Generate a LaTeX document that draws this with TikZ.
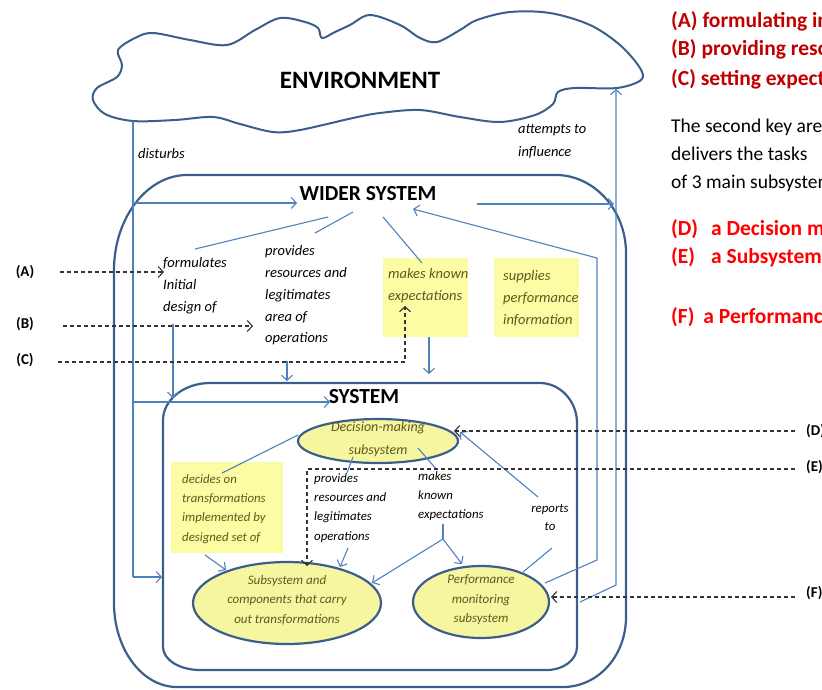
\documentclass[tikz,border=0pt]{standalone}
\usepackage{fontspec}
\setmainfont{Carlito}
\usetikzlibrary{arrows.meta,shapes.geometric}

\definecolor{linkblue}{RGB}{79,129,189}
\definecolor{frameblue}{RGB}{59,94,140}
\definecolor{notefill}{RGB}{252,252,164}
\definecolor{blobfill}{RGB}{246,246,160}
\definecolor{notetext}{RGB}{96,88,30}
\definecolor{keyred}{RGB}{192,0,0}
\definecolor{hotred}{RGB}{255,0,0}

\tikzset{
  link/.style={draw=linkblue, line width=1.1pt},
  linktip/.style={link, -{Straight Barb[length=5pt,width=11pt]}},
  keyline/.style={draw=black!80, line width=1.1pt, dash pattern=on 4pt off 3pt,
    -{Straight Barb[length=5pt,width=11pt]}},
  frame/.style={draw=frameblue, line width=2.2pt},
  blob/.style={ellipse, draw=frameblue, line width=2.2pt, fill=blobfill, inner sep=0pt},
  note/.style={fill=notefill, inner sep=0pt, anchor=north west},
  outer/.style={font=\fontsize{14.5}{21.8}\selectfont\itshape, inner sep=0pt,
    anchor=north west, align=left},
  inner/.style={font=\fontsize{12.8}{19.4}\selectfont\itshape, inner sep=0pt,
    anchor=north west, align=left},
  title/.style={font=\fontsize{21.5}{24}\selectfont\bfseries, inner sep=0pt},
  tag/.style={font=\fontsize{15}{17}\selectfont\bfseries, inner sep=0pt},
  keytext/.style={font=\fontsize{21.5}{24}\selectfont\bfseries, anchor=base west, inner sep=0pt},
  plaintext/.style={font=\fontsize{19.5}{24}\selectfont, anchor=base west, inner sep=0pt},
}

\begin{document}
\begin{tikzpicture}[x=1pt,y=-1pt]
\useasboundingbox (0,0) rectangle (822,689);
\clip (0,0) rectangle (822,689);

% environment cloud
\draw[frame, line width=2pt, fill=white] plot[smooth cycle, tension=0.55] coordinates {
  (93,100) (97,88) (117,77) (122,65) (118,50) (135,38) (153,33) (190,40) (227,45)
  (255,30) (280,18) (305,22) (318,28) (322,38) (335,32) (350,25) (370,15) (400,25)
  (420,38) (437,42) (460,30) (477,20) (510,12) (550,13) (590,25) (620,45) (640,68)
  (641,80) (617,88) (575,88) (558,92) (553,104) (535,115) (500,122) (460,117)
  (420,110) (380,113) (353,118) (300,130) (273,132) (240,124) (213,117) (175,120)
  (133,121) (105,114)};
\node[font=\fontsize{25}{28}\selectfont\bfseries] (env) at (360,80) {ENVIRONMENT};

% wider system frame
\draw[frame] (187,175) -- (556,175) .. controls (594,175) and (626,210) .. (626,253)
  -- (626,617) .. controls (626,656) and (598,687) .. (563,687)
  -- (177,687) .. controls (142,687) and (114,649) .. (114,603)
  -- (114,270) .. controls (114,218) and (147,175) .. (187,175) -- cycle;
\node[title] (wider) at (368,194) {WIDER SYSTEM};

% system frame
\draw[frame] (210,383) -- (540,383) .. controls (560,383) and (577,401) .. (577,423)
  -- (577,647) .. controls (577,660) and (563,670) .. (547,670)
  -- (200,670) .. controls (180,670) and (163,660) .. (163,647)
  -- (163,420) .. controls (163,400) and (184,383) .. (210,383) -- cycle;
\node[title] (sys) at (364,397) {SYSTEM};

% highlighted notes
\node[note, minimum width=85, minimum height=79] (mkbox) at (383,258) {};
\node[note, minimum width=85, minimum height=79] (supbox) at (494,258) {};
\node[note, minimum width=112, minimum height=91] (decbox) at (171,462) {};

% subsystems
\node[blob, minimum width=160, minimum height=44] (dec) at (378,441) {};
\node[blob, minimum width=188, minimum height=82] (sub) at (287,603) {};
\node[blob, minimum width=136, minimum height=72] (perf) at (481,602) {};
\node[font=\fontsize{14}{23}\selectfont\itshape, text=notetext, align=center, inner sep=0pt]
  (declbl) at (378,439) {Decision-making\\subsystem};
\node[font=\fontsize{13}{19.5}\selectfont\itshape, text=notetext, align=center, inner sep=0pt]
  (sublbl) at (287,600) {Subsystem and\\components that carry\\out transformations};
\node[font=\fontsize{13}{19.5}\selectfont\itshape, text=notetext, align=center, inner sep=0pt]
  (perflbl) at (481,600) {Performance\\monitoring\\subsystem};

% labels of the wider system
\node[outer] (disturbs) at (138,148.5) {disturbs};
\node[outer, font=\fontsize{14.5}{23}\selectfont\itshape] (attempts) at (518,124.5) {attempts to\\influence};
\node[outer] (formulates) at (163,257.5) {formulates\\Initial\\design of};
\node[outer] (provides) at (265,245.5) {provides\\resources and\\legitimates\\area of\\operations};
\node[outer, text=notetext] (mktext) at (388,268.5) {makes known\\expectations};
\node[outer, text=notetext] (suptext) at (503,270.5) {supplies\\performance\\information};

% labels inside the system
\node[inner, text=notetext] (dectext) at (182,474) {decides on\\transformations\\implemented by\\designed set of};
\node[inner] (resources) at (314,473) {provides\\resources and\\legitimates\\operations};
\node[inner] (known) at (418,471) {makes\\known\\expectations};
\node[inner, anchor=north, align=center, font=\fontsize{12.8}{18}\selectfont\itshape] (reports) at (550,504) {reports\\to};

% endpoints of the connectors
\coordinate (d0) at (133,121);
\coordinate (d1) at (133,203);
\coordinate (d2) at (133,402);
\coordinate (d3) at (133,577);
\coordinate (wIn) at (297,203);
\coordinate (sIn) at (330,402);
\coordinate (sEdge) at (162,577);
\coordinate (i0) at (580,602);
\coordinate (i1) at (616,585);
\coordinate (i2) at (616,89);
\coordinate (wOut) at (477,204);
\coordinate (iHit) at (614,204);
\coordinate (s0) at (545,583);
\coordinate (s1) at (597,560);
\coordinate (s2) at (597,258);
\coordinate (s3) at (413,209);
\coordinate (wf0) at (328,217);
\coordinate (wf1) at (195,249);
\coordinate (wp0) at (353,212);
\coordinate (wp1) at (315,233);
\coordinate (wm0) at (383,217);
\coordinate (wm1) at (422,263);
\coordinate (f0) at (173,324);
\coordinate (f1) at (173,398);
\coordinate (p0) at (287,361);
\coordinate (p1) at (287,381);
\coordinate (m0) at (429,337);
\coordinate (m1) at (429,374);
\coordinate (c0) at (298,435);
\coordinate (c1) at (222,473);
\coordinate (c2) at (205,555);
\coordinate (c3) at (226,570);
\coordinate (r0) at (353,457);
\coordinate (r1) at (347,473);
\coordinate (r2) at (348,548);
\coordinate (r3) at (340,567);
\coordinate (k0) at (418,448);
\coordinate (k1) at (437,470);
\coordinate (k2) at (443,524);
\coordinate (k3) at (443,539);
\coordinate (k4) at (372,583);
\coordinate (k5) at (462,564);
\coordinate (t0) at (552,548);
\coordinate (t1) at (523,572);
\coordinate (t2) at (538,497);
\coordinate (t3) at (460,432);

% environment links
\draw[link] (d0) -- (d3);
\draw[linktip] (d1) -- (wIn);
\draw[linktip] (d2) -- (sIn);
\draw[linktip] (d3) -- (sEdge);
\draw[linktip] (i0) -- (i1) -- (i2);
\draw[linktip] (wOut) -- (iHit);
\draw[linktip] (s0) -- (s1) -- (s2) -- (s3);

% wider system to system
\draw[link] (wf0) -- (wf1);
\draw[link] (wp0) -- (wp1);
\draw[link] (wm0) -- (wm1);
\draw[linktip] (f0) -- (f1);
\draw[linktip] (p0) -- (p1);
\draw[linktip] (m0) -- (m1);

% links between the subsystems
\draw[link] (c0) -- (c1);
\draw[linktip] (c2) -- (c3);
\draw[link] (r0) -- (r1);
\draw[linktip] (r2) -- (r3);
\draw[link] (k0) -- (k1);
\draw[link] (k2) -- (k3);
\draw[linktip] (k3) -- (k4);
\draw[linktip] (k3) -- (k5);
\draw[link] (t0) -- (t1);
\draw[linktip] (t2) -- (t3);

% key tags and their pointers
\node[tag] (ka) at (25,272) {(A)};
\node[tag] (kb) at (25,324) {(B)};
\node[tag] (kc) at (25,360) {(C)};
\node[tag, anchor=west] (kd) at (806,431) {(D)};
\node[tag, anchor=west] (ke) at (806,467) {(E)};
\node[tag, anchor=west] (kf) at (806,593) {(F)};
\coordinate (a0) at (60,272);
\coordinate (a1) at (164,272);
\coordinate (b0) at (63,326);
\coordinate (b1) at (253,326);
\coordinate (cc0) at (58,362);
\coordinate (cc1) at (405,362);
\coordinate (cc2) at (405,306);
\coordinate (dd0) at (795,431);
\coordinate (dd1) at (454,431);
\coordinate (e0) at (795,469);
\coordinate (e1) at (307,469);
\coordinate (e2) at (307,566);
\coordinate (ff0) at (795,597);
\coordinate (ff1) at (551,597);
\draw[keyline] (a0) -- (a1);
\draw[keyline] (b0) -- (b1);
\draw[keyline] (cc0) -- (cc1) -- (cc2);
\draw[keyline] (dd0) -- (dd1);
\draw[keyline] (e0) -- (e1) -- (e2);
\draw[keyline] (ff0) -- (ff1);

% key text
\node[keytext, text=keyred] (ta) at (671,27) {(A) formulating initial design};
\node[keytext, text=keyred] (tb) at (671,55) {(B) providing resources};
\node[keytext, text=keyred] (tc) at (671,85) {(C) setting expectations};
\node[plaintext] (p1) at (671,132) {The second key area};
\node[plaintext] (p2) at (671,160) {delivers the tasks};
\node[plaintext] (p3) at (671,188) {of 3 main subsystems};
\node[keytext, text=hotred] (td) at (671,235) {(D)\hspace{13pt}a Decision making};
\node[keytext, text=hotred] (te) at (671,263) {(E)\hspace{16pt}a Subsystem};
\node[keytext, text=hotred] (tf) at (671,323) {(F)\hspace{9pt}a Performance};
\end{tikzpicture}
\end{document}
